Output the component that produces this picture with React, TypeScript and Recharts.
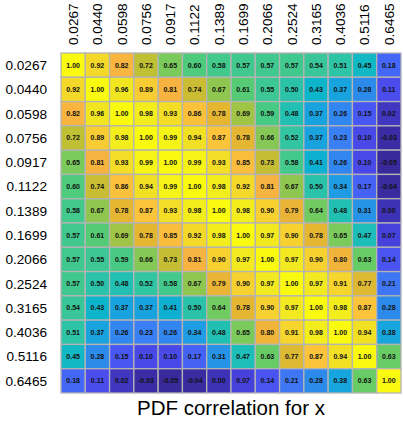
import React from 'react';
import { ScatterChart, Scatter, XAxis, YAxis } from 'recharts';

// bandwidth labels (same for rows and columns)
const bandwidths = ['0.0267', '0.0440', '0.0598', '0.0756', '0.0917', '0.1122', '0.1389',
  '0.1699', '0.2066', '0.2524', '0.3165', '0.4036', '0.5116', '0.6465'];

// correlation matrix, one row per bandwidth
const row0 = [1.00, 0.92, 0.82, 0.72, 0.65, 0.60, 0.58, 0.57, 0.57, 0.57, 0.54, 0.51, 0.45, 0.18];
const row1 = [0.92, 1.00, 0.96, 0.89, 0.81, 0.74, 0.67, 0.61, 0.55, 0.50, 0.43, 0.37, 0.28, 0.11];
const row2 = [0.82, 0.96, 1.00, 0.98, 0.93, 0.86, 0.78, 0.69, 0.59, 0.48, 0.37, 0.26, 0.15, 0.02];
const row3 = [0.72, 0.89, 0.98, 1.00, 0.99, 0.94, 0.87, 0.78, 0.66, 0.52, 0.37, 0.23, 0.10, -0.03];
const row4 = [0.65, 0.81, 0.93, 0.99, 1.00, 0.99, 0.93, 0.85, 0.73, 0.58, 0.41, 0.26, 0.10, -0.05];
const row5 = [0.60, 0.74, 0.86, 0.94, 0.99, 1.00, 0.98, 0.92, 0.81, 0.67, 0.50, 0.34, 0.17, -0.04];
const row6 = [0.58, 0.67, 0.78, 0.87, 0.93, 0.98, 1.00, 0.98, 0.90, 0.79, 0.64, 0.48, 0.31, 0.00];
const row7 = [0.57, 0.61, 0.69, 0.78, 0.85, 0.92, 0.98, 1.00, 0.97, 0.90, 0.78, 0.65, 0.47, 0.07];
const row8 = [0.57, 0.55, 0.59, 0.66, 0.73, 0.81, 0.90, 0.97, 1.00, 0.97, 0.90, 0.80, 0.63, 0.14];
const row9 = [0.57, 0.50, 0.48, 0.52, 0.58, 0.67, 0.79, 0.90, 0.97, 1.00, 0.97, 0.91, 0.77, 0.21];
const row10 = [0.54, 0.43, 0.37, 0.37, 0.41, 0.50, 0.64, 0.78, 0.90, 0.97, 1.00, 0.98, 0.87, 0.28];
const row11 = [0.51, 0.37, 0.26, 0.23, 0.26, 0.34, 0.48, 0.65, 0.80, 0.91, 0.98, 1.00, 0.94, 0.38];
const row12 = [0.45, 0.28, 0.15, 0.10, 0.10, 0.17, 0.31, 0.47, 0.63, 0.77, 0.87, 0.94, 1.00, 0.63];
const row13 = [0.18, 0.11, 0.02, -0.03, -0.05, -0.04, 0.00, 0.07, 0.14, 0.21, 0.28, 0.38, 0.63, 1.00];

const matrix = [row0, row1, row2, row3, row4, row5, row6, row7, row8, row9, row10, row11, row12, row13];

// colour ramp (value -> colour)
const STOPS: [number, string][] = [
  [-0.05, '#39299b'], [0.0, '#3d31b5'], [0.07, '#4741dc'], [0.11, '#4a4cec'],
  [0.15, '#4857f2'], [0.18, '#4468f5'], [0.23, '#3b7ff4'], [0.28, '#2c8aeb'],
  [0.34, '#1f9ce3'], [0.38, '#16a5dc'], [0.42, '#0bb3ce'], [0.45, '#12b8c4'],
  [0.48, '#22c0b3'], [0.51, '#2ec4a6'], [0.55, '#3cc795'], [0.58, '#42c98b'],
  [0.6, '#4ecb7d'], [0.63, '#67cc66'], [0.65, '#7aca5c'], [0.67, '#8fc650'],
  [0.69, '#a0c546'], [0.72, '#bfc034'], [0.75, '#d0bb33'], [0.78, '#e4b632'],
  [0.81, '#f6b33f'], [0.84, '#fbba3e'], [0.87, '#fbc43a'], [0.9, '#f7d12f'],
  [0.93, '#f3dd27'], [0.96, '#f1e521'], [0.98, '#f3ed1e'], [1.0, '#f9fa0f'],
];

const hex = (h: string) => [1, 3, 5].map((i) => parseInt(h.slice(i, i + 2), 16));

function colorFor(v: number) {
  if (v <= STOPS[0][0]) return STOPS[0][1];
  for (let i = 1; i < STOPS.length; i++) {
    const [v1, c1] = STOPS[i];
    if (v <= v1) {
      const [v0, c0] = STOPS[i - 1];
      const t = (v - v0) / (v1 - v0);
      const a = hex(c0), b = hex(c1);
      const m = a.map((x, k) => Math.round(x + (b[k] - x) * t));
      return `rgb(${m[0]},${m[1]},${m[2]})`;
    }
  }
  return STOPS[STOPS.length - 1][1];
}

const cells = matrix.flatMap((row, r) => row.map((v, c) => ({ x: c, y: r, v })));
const idx = bandwidths.map((_, i) => i);

const CELL = 340 / 14;
const FONT = '"Liberation Sans", Arial, Helvetica, sans-serif';

const Cell = (props: any) => {
  const { cx, cy, payload } = props;
  return (
    <g>
      <rect x={cx - CELL / 2} y={cy - CELL / 2} width={CELL} height={CELL}
        fill={colorFor(payload.v)} stroke="#b4b4b4" strokeWidth={1.3} />
      <text x={cx} y={cy} dy="0.35em" textAnchor="middle" fontSize={7}
        fontWeight="bold" fontFamily={FONT} fill="#111">
        {payload.v.toFixed(2)}
      </text>
    </g>
  );
};

const TopTick = (props: any) => {
  const { x, y, payload } = props;
  return (
    <text transform={`translate(${x + 4.8},${y}) rotate(-90)`} textAnchor="start"
      fontSize={13.6} fontFamily={FONT} fill="#000">
      {bandwidths[payload.value]}
    </text>
  );
};

export default function App() {
  return (
    <div style={{ position: 'absolute', left: 0, top: 0, background: '#fff' }}>
      <ScatterChart width={403} height={422} margin={{ top: 8, right: 2, bottom: 0, left: 5 }}>
        <XAxis xAxisId="top" type="number" dataKey="x" orientation="top" domain={[-0.5, 13.5]}
          ticks={idx} height={45} tickSize={0} tickMargin={8} axisLine={false} tickLine={false}
          tick={<TopTick />} interval={0} />
        <XAxis xAxisId="title" type="number" dataKey="x" orientation="bottom" domain={[-0.5, 13.5]}
          height={29} tick={false} axisLine={false} tickLine={false}
          label={{ value: 'PDF correlation for x', position: 'center', fontSize: 20.5, fill: '#000', fontFamily: FONT }} />
        <YAxis type="number" dataKey="y" domain={[-0.5, 13.5]} reversed ticks={idx} width={56}
          tickSize={0} tickMargin={14} axisLine={false} tickLine={false} interval={0}
          tickFormatter={(i: number) => bandwidths[i]}
          tick={{ fontSize: 13.6, fill: '#000', fontFamily: FONT }} />
        <Scatter xAxisId="top" data={cells} shape={<Cell />} isAnimationActive={false} />
      </ScatterChart>
    </div>
  );
}
